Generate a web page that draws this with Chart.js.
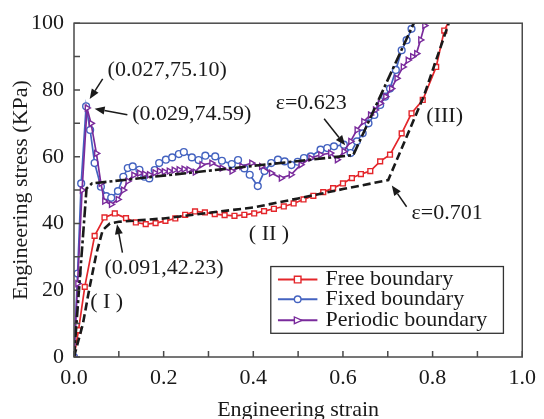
<!DOCTYPE html>
<html><head><meta charset="utf-8">
<script src="https://cdn.jsdelivr.net/npm/chart.js@4/dist/chart.umd.min.js"></script>
<style>html,body{margin:0;padding:0;background:#fff;overflow:hidden}canvas{display:block}</style>
</head><body>
<canvas id="c" width="544" height="419" style="width:544px;height:419px"></canvas>
<script>
// ---- data ----
const seriesNames = ['Free boundary', 'Fixed boundary', 'Periodic boundary'];

const freeStrain = [0, 0.01, 0.024, 0.046, 0.068, 0.091, 0.116, 0.138, 0.16, 0.182, 0.204, 0.226, 0.248, 0.27, 0.292, 0.314, 0.336, 0.358, 0.38, 0.402, 0.424, 0.446, 0.468, 0.49, 0.512, 0.534, 0.556, 0.578, 0.6, 0.62, 0.64, 0.661, 0.683, 0.705, 0.731, 0.753, 0.778, 0.808, 0.826, 0.838];
const freeStress = [0, 8, 21, 36.3, 41.8, 43, 41.6, 40.3, 39.8, 40.1, 40.8, 41.5, 42.6, 43.6, 43.3, 42.8, 42.5, 42.3, 42.6, 43, 43.7, 44.4, 45.1, 46, 47.2, 48.3, 49.4, 50.6, 52, 53.6, 54.8, 55.7, 58.6, 60.6, 67, 73, 77, 86.9, 97.8, 101];

const fixedStrain = [0, 0.008, 0.016, 0.027, 0.036, 0.046, 0.06, 0.072, 0.083, 0.098, 0.11, 0.12, 0.131, 0.146, 0.157, 0.168, 0.18, 0.19, 0.205, 0.219, 0.234, 0.245, 0.263, 0.278, 0.293, 0.315, 0.33, 0.352, 0.366, 0.38, 0.392, 0.41, 0.425, 0.44, 0.455, 0.47, 0.485, 0.499, 0.513, 0.528, 0.55, 0.565, 0.58, 0.602, 0.617, 0.631, 0.644, 0.657, 0.67, 0.683, 0.694, 0.705, 0.718, 0.731, 0.742, 0.753, 0.762];
const fixedStress = [0, 25, 52, 75.1, 68, 58.1, 51, 48.2, 47.7, 49.7, 54, 56.6, 57.1, 56.1, 54, 53.5, 56, 58.1, 59.1, 59.8, 60.8, 61.4, 59.8, 59, 60.3, 60.1, 58.8, 57.8, 59, 56.5, 54.6, 51.2, 55.7, 58.1, 59.1, 58.6, 57.5, 58.5, 59.6, 60.1, 62.1, 62.6, 63.1, 63.6, 61.1, 64.6, 67, 70, 72.5, 75.5, 78, 80.4, 86, 91.9, 94.9, 98.3, 101];

const periodicStrain = [0, 0.008, 0.018, 0.029, 0.038, 0.05, 0.06, 0.068, 0.083, 0.098, 0.11, 0.12, 0.133, 0.146, 0.157, 0.168, 0.18, 0.19, 0.201, 0.212, 0.223, 0.234, 0.245, 0.256, 0.27, 0.285, 0.307, 0.33, 0.352, 0.374, 0.396, 0.418, 0.44, 0.462, 0.484, 0.506, 0.528, 0.55, 0.572, 0.587, 0.602, 0.617, 0.631, 0.646, 0.661, 0.672, 0.683, 0.695, 0.708, 0.72, 0.734, 0.745, 0.755, 0.764, 0.773, 0.782, 0.79];
const periodicStress = [0, 22, 50, 74.59, 70, 61, 52, 46.7, 45.7, 47.2, 50, 52.7, 54.5, 55.1, 54.8, 54.6, 55.2, 55.7, 55.5, 55.7, 56, 56.1, 56.3, 56.1, 55.4, 57.6, 58.1, 56.6, 55.7, 57.1, 58.1, 57.1, 55.1, 53.6, 54.6, 57.6, 59.6, 60.6, 61.1, 59.1, 61.6, 64.6, 68, 70.5, 72.5, 74, 76, 78, 80.4, 83.5, 86.9, 88.9, 90, 90.9, 95, 99.3, 102];

const freeFitStrain = [0, 0.02, 0.035, 0.05, 0.064, 0.08, 0.1, 0.2, 0.3, 0.4, 0.5, 0.6, 0.701, 0.78, 0.836];
const freeFitStress = [0, 10, 21, 31, 38, 40, 40.5, 41.5, 43.2, 44.8, 47.5, 50.3, 53, 78, 100];

const fixedFitStrain = [0, 0.028, 0.04, 0.623, 0.758];
const fixedFitStress = [0, 50.5, 52, 60.5, 100];

const xTickLabels = [0, 0.2, 0.4, 0.6, 0.8, 1.0];
const yTickLabels = [0, 20, 40, 60, 80, 100];
const xMinorTicks = [0.1, 0.3, 0.5, 0.7, 0.9];
const yMinorTicks = [10, 30, 50, 70, 90];

// ---- styling ----
const FONT = "'Liberation Serif','Times New Roman',serif";
const RED = '#e4262b', BLUE = '#4463c0', PURPLE = '#7a2b9c', INK = '#1a1a1a';

const pts = (xs, ys) => xs.map((x, i) => ({x, y: ys[i]}));

function series(label, xs, ys, color, style, rot) {
  return {
    label, data: pts(xs, ys), borderColor: color, borderWidth: 1.7,
    pointStyle: style, pointRotation: rot || 0, pointRadius: 3.4,
    pointBackgroundColor: '#fff', pointBorderColor: color, pointBorderWidth: 1.4,
    tension: 0, fill: false
  };
}
function fit(label, xs, ys, dash) {
  return {
    label, data: pts(xs, ys), borderColor: INK, borderWidth: 2.6, borderDash: dash,
    pointRadius: 0, tension: 0, fill: false
  };
}

// annotation texts & arrows in data coordinates
const notes = [
  {t: '(0.027,75.10)', x: 0.075, y: 86.0},
  {t: '(0.029,74.59)', x: 0.130, y: 72.6},
  {t: 'ε=0.623', x: 0.450, y: 75.9},
  {t: '(III)', x: 0.786, y: 72.0},
  {t: 'ε=0.701', x: 0.753, y: 43.2},
  {t: '( II )', x: 0.390, y: 36.9},
  {t: '(0.091,42.23)', x: 0.068, y: 26.5},
  {t: '( I )', x: 0.036, y: 16.4}
];
const arrows = [
  [0.064, 83.3, 0.035, 77.3],
  [0.119, 72.6, 0.046, 74.4],
  [0.558, 71.4, 0.605, 63.4],
  [0.742, 45.0, 0.709, 51.4],
  [0.108, 31.3, 0.096, 39.8]
];

const framePlugin = {
  id: 'frame',
  afterDatasetsDraw(chart) {
    const {ctx, chartArea: a, scales: {x, y}} = chart;
    ctx.save();
    ctx.strokeStyle = '#4a4a4a';
    ctx.lineWidth = 1.5;
    ctx.strokeRect(a.left, a.top, a.right - a.left, a.bottom - a.top);
    ctx.beginPath();
    xTickLabels.concat(xMinorTicks).forEach(v => {
      const px = x.getPixelForValue(v);
      ctx.moveTo(px, a.bottom); ctx.lineTo(px, a.bottom - 6);
    });
    yTickLabels.concat(yMinorTicks).forEach(v => {
      const py = y.getPixelForValue(v);
      ctx.moveTo(a.left, py); ctx.lineTo(a.left + 6, py);
    });
    ctx.stroke();

    // annotations
    ctx.fillStyle = INK;
    ctx.font = '22px ' + FONT;
    ctx.textBaseline = 'middle';
    ctx.textAlign = 'left';
    notes.forEach(n => ctx.fillText(n.t, x.getPixelForValue(n.x), y.getPixelForValue(n.y)));
    ctx.strokeStyle = INK;
    ctx.lineWidth = 1.5;
    arrows.forEach(([x1, y1, x2, y2]) => {
      const ax = x.getPixelForValue(x1), ay = y.getPixelForValue(y1);
      const bx = x.getPixelForValue(x2), by = y.getPixelForValue(y2);
      const ang = Math.atan2(by - ay, bx - ax);
      const L = 10, W = 4;
      const cx = bx - L * Math.cos(ang), cy = by - L * Math.sin(ang);
      ctx.beginPath(); ctx.moveTo(ax, ay); ctx.lineTo(cx, cy); ctx.stroke();
      ctx.beginPath();
      ctx.moveTo(bx, by);
      ctx.lineTo(cx + W * Math.sin(ang), cy - W * Math.cos(ang));
      ctx.lineTo(cx - W * Math.sin(ang), cy + W * Math.cos(ang));
      ctx.closePath(); ctx.fill();
    });

    // legend
    const bx0 = x.getPixelForValue(0.439), bx1 = x.getPixelForValue(0.958);
    const by0 = y.getPixelForValue(27.1), by1 = y.getPixelForValue(7.1);
    ctx.fillStyle = '#fff';
    ctx.fillRect(bx0, by0, bx1 - bx0, by1 - by0);
    ctx.strokeStyle = '#333';
    ctx.lineWidth = 1.3;
    ctx.strokeRect(bx0, by0, bx1 - bx0, by1 - by0);
    const rows = [23.2, 17.3, 11.0];
    const cols = [RED, BLUE, PURPLE];
    const shapes = ['rect', 'circle', 'tri'];
    const lx0 = x.getPixelForValue(0.455), lx1 = x.getPixelForValue(0.543), tx = x.getPixelForValue(0.561);
    rows.forEach((ry, i) => {
      const py = y.getPixelForValue(ry);
      ctx.strokeStyle = cols[i]; ctx.lineWidth = 2;
      ctx.beginPath(); ctx.moveTo(lx0, py); ctx.lineTo(lx1, py); ctx.stroke();
      const mx = (lx0 + lx1) / 2, r = 3.3;
      ctx.fillStyle = '#fff'; ctx.lineWidth = 1.4;
      ctx.beginPath();
      if (shapes[i] === 'rect') ctx.rect(mx - r, py - r, 2 * r, 2 * r);
      else if (shapes[i] === 'circle') ctx.arc(mx, py, r, 0, Math.PI * 2);
      else { ctx.moveTo(mx + r + 1, py); ctx.lineTo(mx - r, py - r); ctx.lineTo(mx - r, py + r); ctx.closePath(); }
      ctx.fill(); ctx.stroke();
      ctx.fillStyle = INK;
      ctx.fillText(seriesNames[i], tx, py);
    });
    ctx.restore();
  }
};

new Chart(document.getElementById('c'), {
  type: 'line',
  data: {
    datasets: [
      fit('Free fit', freeFitStrain, freeFitStress, [8, 4]),
      fit('Fixed fit', fixedFitStrain, fixedFitStress, [11, 3, 3, 3]),
      series(seriesNames[2], periodicStrain, periodicStress, PURPLE, 'triangle', 90),
      series(seriesNames[1], fixedStrain, fixedStress, BLUE, 'circle'),
      series(seriesNames[0], freeStrain, freeStress, RED, 'rect')
    ]
  },
  options: {
    responsive: false, animation: false, devicePixelRatio: 1,
    layout: {padding: {left: 0, right: 17, top: 21, bottom: 0}},
    plugins: {legend: {display: false}, tooltip: {enabled: false}},
    scales: {
      x: {
        type: 'linear', min: 0, max: 1,
        afterBuildTicks: s => { s.ticks = xTickLabels.map(v => ({value: v})); },
        afterFit: s => { s.height = 62; },
        ticks: {callback: v => Number(v).toFixed(1), font: {family: FONT, size: 22}, color: INK, padding: 8, maxRotation: 0, autoSkip: false},
        grid: {display: false, drawTicks: false},
        border: {display: false},
        title: {display: true, text: 'Engineering strain', font: {family: FONT, size: 22, lineHeight: 1}, color: INK, padding: {top: 0, bottom: -2}}
      },
      y: {
        type: 'linear', min: 0, max: 100,
        afterBuildTicks: s => { s.ticks = yTickLabels.map(v => ({value: v})); },
        afterFit: s => { s.width = 74; },
        ticks: {font: {family: FONT, size: 22}, color: INK, padding: 10, autoSkip: false},
        grid: {display: false, drawTicks: false},
        border: {display: false},
        title: {display: true, text: 'Engineering stress (KPa)', font: {family: FONT, size: 22, lineHeight: 1}, color: INK, padding: {top: 10, bottom: 0}}
      }
    }
  },
  plugins: [framePlugin]
});
</script>
</body></html>
